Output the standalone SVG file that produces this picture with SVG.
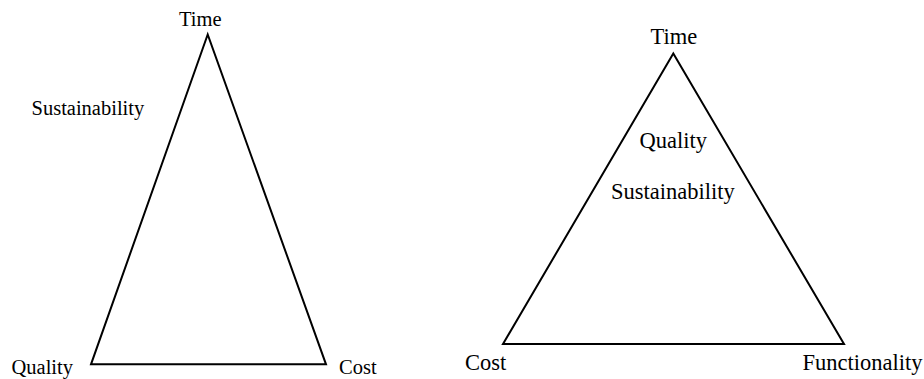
<svg xmlns="http://www.w3.org/2000/svg" width="924" height="379" viewBox="0 0 924 379">
<style>
.t{font-family:"Liberation Serif","Times New Roman",serif;fill:#000}
.s{font-size:20.5px}
.b{font-size:22.5px}
.e{fill:none;stroke:#000;stroke-width:2;stroke-linejoin:miter}
</style>
<rect width="924" height="379" fill="#fff"/>
<g id="connectors">
<polygon class="e" points="207.7,34.5 91,364.3 326,364.3"/>
<polygon class="e" points="673.3,53.5 503,344 844,344"/>
</g>
<g id="left-time"><text class="t s" x="179" y="26">Time</text></g>
<g id="left-sustainability"><text class="t s" x="31.5" y="115">Sustainability</text></g>
<g id="left-quality"><text class="t s" x="11.5" y="374">Quality</text></g>
<g id="left-cost"><text class="t s" x="339" y="374">Cost</text></g>
<g id="right-time"><text class="t b" x="650.5" y="43.5">Time</text></g>
<g id="right-quality"><text class="t b" x="639.5" y="148">Quality</text></g>
<g id="right-sustainability"><text class="t b" x="611" y="199">Sustainability</text></g>
<g id="right-cost"><text class="t b" x="465" y="370">Cost</text></g>
<g id="right-functionality"><text class="t b" x="802.5" y="370">Functionality</text></g>
</svg>
